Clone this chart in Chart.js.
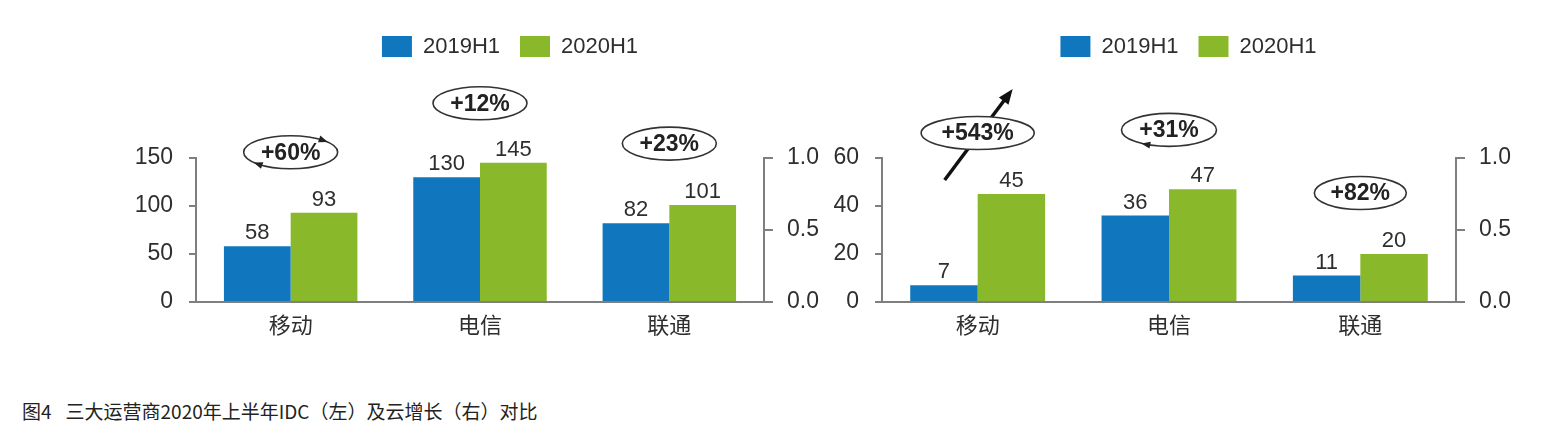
<!DOCTYPE html>
<html>
<head>
<meta charset="utf-8">
<script src="https://cdn.jsdelivr.net/npm/chart.js@4.4.1/dist/chart.umd.min.js"></script>
<style>
  body { margin: 0; background: #fff; width: 1566px; height: 445px; position: relative; overflow: hidden; }
  canvas { position: absolute; top: 0; }
  #idcChart { left: 0; }
  #cloudChart { left: 830px; }
  #caption { position: absolute; left: 22px; top: 397px; font: 19px "Noto Sans CJK SC", sans-serif; color: #222; white-space: pre; }
  #caption b { font-weight: normal; margin-left: 14px; }
</style>
</head>
<body>
<canvas id="idcChart" width="830" height="350"></canvas>
<canvas id="cloudChart" width="736" height="350"></canvas>
<div id="caption">图4<b>三大运营商2020年上半年IDC（左）及云增长（右）对比</b></div>
<script>
// data
const categories = ['移动', '电信', '联通'];
const seriesNames = ['2019H1', '2020H1'];

const idc2019 = [58, 130, 82];
const idc2020 = [93, 145, 101];
const idcGrowth = ['+60%', '+12%', '+23%'];
const idcTicks = [0, 50, 100, 150];

const cloud2019 = [7, 36, 11];
const cloud2020 = [45, 47, 20];
const cloudGrowth = ['+543%', '+31%', '+82%'];
const cloudTicks = [0, 20, 40, 60];

const rightTicks = [0, 0.5, 1];

// look
const BLUE = '#1077bf';
const GREEN = '#89b92a';
const AXIS = '#7f7f7f';
const TEXT = '#2e2e2e';
const FAMILY = '"Liberation Sans", "Noto Sans CJK SC", sans-serif';

Chart.defaults.font.family = FAMILY;
Chart.defaults.color = TEXT;

// legend gets a fixed height (pushes the plot down) and is moved to where the figure has it
const fixedLayout = {
    id: 'fixedLayout',
    beforeLayout(chart, args, opts) {
        const lg = chart.legend;
        if (lg && !lg._patched) {
            const fit = lg.fit;
            lg.fit = function () { fit.call(this); this.height = opts.legendHeight; };
            lg._patched = true;
        }
    },
    afterLayout(chart, args, opts) {
        const lg = chart.legend;
        const dx = opts.legendCenter - (lg.left + lg.right) / 2;
        lg.left += dx;
        lg.right += dx;
        lg.top += opts.legendTop;
    }
};

// value above every bar
const barValues = {
    id: 'barValues',
    afterDatasetsDraw(chart) {
        const ctx = chart.ctx;
        ctx.save();
        ctx.font = '22px ' + FAMILY;
        ctx.fillStyle = TEXT;
        ctx.textAlign = 'center';
        ctx.textBaseline = 'bottom';
        chart.data.datasets.forEach((ds, di) => {
            chart.getDatasetMeta(di).data.forEach((bar, i) => {
                ctx.fillText(ds.data[i], bar.x, bar.y - 2);
            });
        });
        ctx.restore();
    }
};

// small arrow head sitting on the ellipse, pointing clockwise
function curlHead(ctx, cx, cy, a, b, t) {
    const px = cx + a * Math.cos(t), py = cy + b * Math.sin(t);
    let dx = -a * Math.sin(t), dy = b * Math.cos(t);
    const len = Math.hypot(dx, dy);
    dx /= len; dy /= len;
    ctx.beginPath();
    ctx.moveTo(px + 4 * dx, py + 4 * dy);
    ctx.lineTo(px - 5 * dx - 3.5 * dy, py - 5 * dy + 3.5 * dx);
    ctx.lineTo(px - 5 * dx + 3.5 * dy, py - 5 * dy - 3.5 * dx);
    ctx.closePath();
    ctx.fill();
}

// growth ellipses, anchored on category index and a y value of the left axis
function growthBubbles(texts, yValues, widths, curls, arrow) {
    return {
        id: 'growthBubbles',
        afterDatasetsDraw(chart) {
            const ctx = chart.ctx;
            const xs = chart.scales.x, ys = chart.scales.y;
            texts.forEach((t, i) => {
                const cx = xs.getPixelForValue(i);
                const cy = ys.getPixelForValue(yValues[i]);
                const a = widths[i] / 2, b = 16.5;
                ctx.save();
                if (arrow && arrow.index === i) {
                    const x0 = cx + arrow.from[0], y0 = cy + arrow.from[1];
                    const x1 = cx + arrow.to[0], y1 = cy + arrow.to[1];
                    const ang = Math.atan2(y1 - y0, x1 - x0);
                    ctx.strokeStyle = '#111';
                    ctx.fillStyle = '#111';
                    ctx.lineWidth = 3.5;
                    ctx.beginPath();
                    ctx.moveTo(x0, y0);
                    ctx.lineTo(x1 - 10 * Math.cos(ang), y1 - 10 * Math.sin(ang));
                    ctx.stroke();
                    ctx.beginPath();
                    ctx.moveTo(x1, y1);
                    ctx.lineTo(x1 - 15 * Math.cos(ang) + 6 * Math.sin(ang), y1 - 15 * Math.sin(ang) - 6 * Math.cos(ang));
                    ctx.lineTo(x1 - 15 * Math.cos(ang) - 6 * Math.sin(ang), y1 - 15 * Math.sin(ang) + 6 * Math.cos(ang));
                    ctx.closePath();
                    ctx.fill();
                }
                ctx.beginPath();
                ctx.ellipse(cx, cy, a, b, 0, 0, Math.PI * 2);
                ctx.fillStyle = '#fff';
                ctx.fill();
                ctx.strokeStyle = '#333';
                ctx.lineWidth = 1.6;
                ctx.stroke();
                ctx.fillStyle = '#222';
                (curls[i] || []).forEach(deg => curlHead(ctx, cx, cy, a, b, deg * Math.PI / 180));
                ctx.font = 'bold 23px ' + FAMILY;
                ctx.textAlign = 'center';
                ctx.textBaseline = 'middle';
                ctx.fillText(t, cx, cy + 1);
                ctx.restore();
            });
        }
    };
}

function makeChart(id, values2019, values2020, leftTicks, cfg) {
    const tickFont = { size: 23, family: FAMILY };
    return new Chart(document.getElementById(id), {
        type: 'bar',
        data: {
            labels: categories,
            datasets: [
                { label: seriesNames[0], data: values2019, backgroundColor: BLUE },
                { label: seriesNames[1], data: values2020, backgroundColor: GREEN }
            ]
        },
        options: {
            responsive: false,
            animation: false,
            events: [],
            categoryPercentage: 0.705,
            barPercentage: 1.0,
            layout: { padding: 0 },
            plugins: {
                tooltip: { enabled: false },
                legend: {
                    position: 'top',
                    labels: { boxWidth: 30, boxHeight: 21, padding: 20, color: TEXT, font: { size: 22, family: FAMILY } }
                },
                fixedLayout: { legendHeight: 158, legendCenter: cfg.legendCenter, legendTop: 15.5 }
            },
            scales: {
                x: {
                    grid: { display: false, drawTicks: false },
                    border: { color: AXIS, width: 2 },
                    ticks: { font: { size: 22, family: FAMILY }, color: TEXT, padding: 12 },
                    afterFit: s => { s.height = 48; }
                },
                y: {
                    position: 'left',
                    min: leftTicks[0],
                    max: leftTicks[leftTicks.length - 1],
                    grid: { drawOnChartArea: false, tickLength: 7, color: AXIS, lineWidth: 2 },
                    border: { color: AXIS, width: 2 },
                    ticks: { font: tickFont, color: TEXT, padding: 16 },
                    afterBuildTicks: s => { s.ticks = leftTicks.map(v => ({ value: v })); },
                    afterFit: s => { s.width = cfg.leftWidth; }
                },
                y1: {
                    type: 'linear',
                    position: 'right',
                    min: 0,
                    max: 1,
                    grid: { drawOnChartArea: false, tickLength: 9, color: AXIS, lineWidth: 2 },
                    border: { color: AXIS, width: 2 },
                    ticks: { font: tickFont, color: TEXT, padding: 14, callback: v => v.toFixed(1) },
                    afterBuildTicks: s => { s.ticks = rightTicks.map(v => ({ value: v })); },
                    afterFit: s => { s.width = cfg.rightWidth; }
                }
            }
        },
        plugins: [fixedLayout, barValues, cfg.bubbles]
    });
}

makeChart('idcChart', idc2019, idc2020, idcTicks, {
    leftWidth: 196,
    rightWidth: 66,
    legendCenter: 510,
    bubbles: growthBubbles(idcGrowth, [156, 207, 165], [94, 94, 94], [[-45, 135], [], []])
});

makeChart('cloudChart', cloud2019, cloud2020, cloudTicks, {
    leftWidth: 52,
    rightWidth: 110,
    legendCenter: 358.5,
    bubbles: growthBubbles(cloudGrowth, [70.4, 71.7, 45.4], [113, 95, 92], [[], [120], []],
        { index: 0, from: [-33, 47], to: [35, -44] })
});
</script>
</body>
</html>
